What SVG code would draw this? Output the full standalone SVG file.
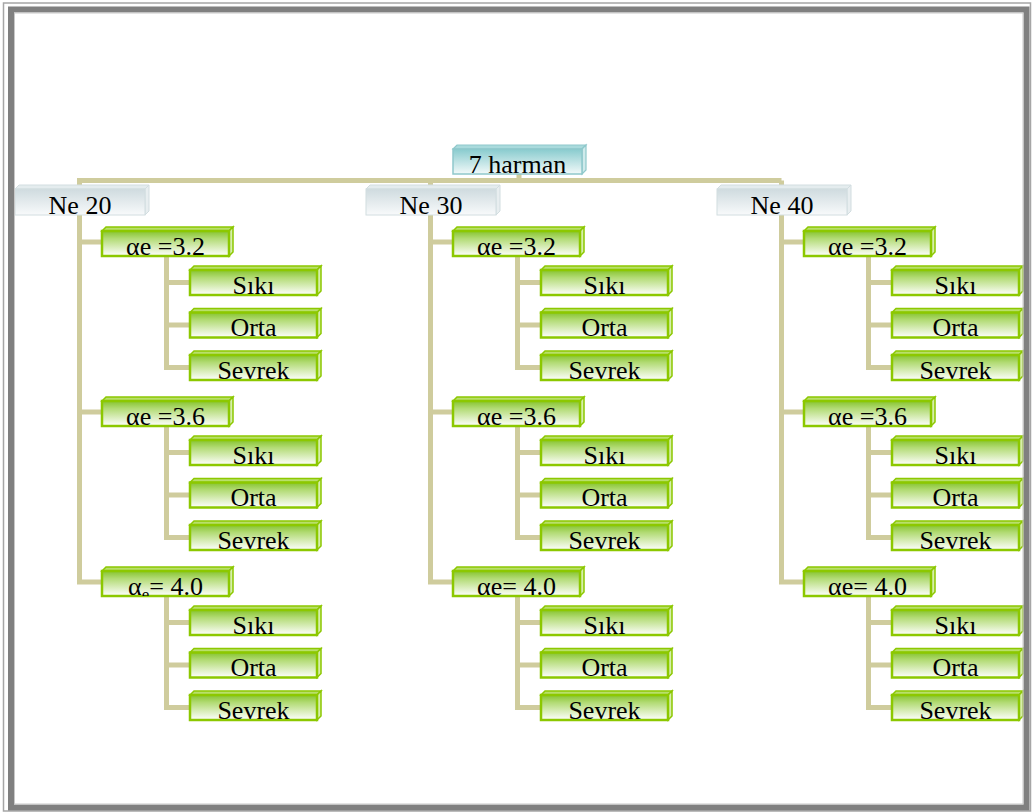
<svg xmlns="http://www.w3.org/2000/svg" width="1032" height="812" viewBox="0 0 1032 812">
<style>
.t{font-family:'Liberation Serif','DejaVu Serif',serif;font-size:26px;fill:#000;text-anchor:middle}
.c{fill:none;stroke:#cfcc9d;stroke-width:5;stroke-linejoin:miter}
</style>
<defs>
<linearGradient id="gG" x1="0" y1="0" x2="0" y2="1"><stop offset="0" stop-color="#86c42e"/><stop offset="0.3" stop-color="#b2db74"/><stop offset="1" stop-color="#ffffff"/></linearGradient>
<linearGradient id="bG" x1="0" y1="0" x2="0" y2="1"><stop offset="0" stop-color="#cfdbdf"/><stop offset="1" stop-color="#f8fafb"/></linearGradient>
<linearGradient id="tG" x1="0" y1="0" x2="0" y2="1"><stop offset="0" stop-color="#88cbce"/><stop offset="1" stop-color="#f2f9f9"/></linearGradient>
<clipPath id="cg"><rect x="0" y="4" width="127" height="25"/></clipPath>
<clipPath id="cb"><rect x="0" y="4" width="130" height="26"/></clipPath>
<g id="gbox">
<path d="M0 4 L4 0 H131 L127 4 Z" fill="#b8df6a" stroke="#8cc800" stroke-width="1.5"/>
<path d="M127 4 L131 0 V25 L127 29 Z" fill="#d6eeaa" stroke="#8cc800" stroke-width="1.5"/>
<rect x="0" y="4" width="127" height="25" fill="url(#gG)" stroke="#8cc800" stroke-width="2.5"/>
</g>
<g id="bbox">
<path d="M0 4 L4 0 H134 L130 4 Z" fill="#e4ecee" stroke="#d2dde0" stroke-width="1"/>
<path d="M130 4 L134 0 V26 L130 30 Z" fill="#e8eef0" stroke="#d2dde0" stroke-width="1"/>
<rect x="0" y="4" width="130" height="26" fill="url(#bG)" stroke="#d2dde0" stroke-width="1"/>
</g>
<g id="tbox">
<path d="M0 4 L4 0 H133 L129 4 Z" fill="#a9dadc" stroke="#8fc8cb" stroke-width="1.2"/>
<path d="M129 4 L133 0 V25 L129 29 Z" fill="#cfeaeb" stroke="#8fc8cb" stroke-width="1.2"/>
<rect x="0" y="4" width="129" height="25" fill="url(#tG)" stroke="#8fc8cb" stroke-width="1.5"/>
</g>
</defs>
<rect x="0" y="0" width="1032" height="812" fill="#ffffff"/>
<g id="connectors">
<path class="c" d="M519 174 V180.5 M79.5 180.5 H781.5 M79.5 178 V187 M430.5 180.5 V187 M781.5 180.5 V187"/>
<path class="c" d="M79.5 215 V582 H104 M79.5 242 H104 M79.5 412 H104"/>
<path class="c" d="M430.5 215 V582 H455 M430.5 242 H455 M430.5 412 H455"/>
<path class="c" d="M781.5 215 V582 H806 M781.5 242 H806 M781.5 412 H806"/>
<path class="c" d="M166.5 256 V367.5 H192 M166.5 282.5 H192 M166.5 325 H192 M166.5 426 V537.5 H192 M166.5 452.5 H192 M166.5 495 H192 M166.5 596 V707.5 H192 M166.5 622.5 H192 M166.5 665 H192"/>
<path class="c" d="M517.5 256 V367.5 H543 M517.5 282.5 H543 M517.5 325 H543 M517.5 426 V537.5 H543 M517.5 452.5 H543 M517.5 495 H543 M517.5 596 V707.5 H543 M517.5 622.5 H543 M517.5 665 H543"/>
<path class="c" d="M868.5 256 V367.5 H894 M868.5 282.5 H894 M868.5 325 H894 M868.5 426 V537.5 H894 M868.5 452.5 H894 M868.5 495 H894 M868.5 596 V707.5 H894 M868.5 622.5 H894 M868.5 665 H894"/>
</g>
<g id="root" transform="translate(453,145)"><use href="#tbox"/><text class="t" x="64.5" y="27.5" clip-path="url(#cg)">7 harman</text></g>
<g id="ne20" transform="translate(15,185)"><use href="#bbox"/><text class="t" x="65" y="28.5" clip-path="url(#cb)">Ne 20</text></g>
<g id="ne30" transform="translate(366,185)"><use href="#bbox"/><text class="t" x="65" y="28.5" clip-path="url(#cb)">Ne 30</text></g>
<g id="ne40" transform="translate(717,185)"><use href="#bbox"/><text class="t" x="65" y="28.5" clip-path="url(#cb)">Ne 40</text></g>
<g id="a20-32" transform="translate(102,227)"><use href="#gbox"/><text class="t" x="63.5" y="27.5" clip-path="url(#cg)">αe =3.2</text></g>
<g id="a20-36" transform="translate(102,397)"><use href="#gbox"/><text class="t" x="63.5" y="27.5" clip-path="url(#cg)">αe =3.6</text></g>
<g id="a20-40" transform="translate(102,567)"><use href="#gbox"/><text class="t" x="63.5" y="27.5" clip-path="url(#cg)">α<tspan font-size="17" dy="5">e</tspan><tspan dy="-5">= 4.0</tspan></text></g>
<g id="a30-32" transform="translate(453,227)"><use href="#gbox"/><text class="t" x="63.5" y="27.5" clip-path="url(#cg)">αe =3.2</text></g>
<g id="a30-36" transform="translate(453,397)"><use href="#gbox"/><text class="t" x="63.5" y="27.5" clip-path="url(#cg)">αe =3.6</text></g>
<g id="a30-40" transform="translate(453,567)"><use href="#gbox"/><text class="t" x="63.5" y="27.5" clip-path="url(#cg)">αe= 4.0</text></g>
<g id="a40-32" transform="translate(804,227)"><use href="#gbox"/><text class="t" x="63.5" y="27.5" clip-path="url(#cg)">αe =3.2</text></g>
<g id="a40-36" transform="translate(804,397)"><use href="#gbox"/><text class="t" x="63.5" y="27.5" clip-path="url(#cg)">αe =3.6</text></g>
<g id="a40-40" transform="translate(804,567)"><use href="#gbox"/><text class="t" x="63.5" y="27.5" clip-path="url(#cg)">αe= 4.0</text></g>
<g id="l20-32-s" transform="translate(190,266)"><use href="#gbox"/><text class="t" x="63.5" y="27.5" clip-path="url(#cg)">Sıkı</text></g>
<g id="l20-32-o" transform="translate(190,308.5)"><use href="#gbox"/><text class="t" x="63.5" y="27.5" clip-path="url(#cg)">Orta</text></g>
<g id="l20-32-v" transform="translate(190,351)"><use href="#gbox"/><text class="t" x="63.5" y="27.5" clip-path="url(#cg)">Sevrek</text></g>
<g id="l20-36-s" transform="translate(190,436)"><use href="#gbox"/><text class="t" x="63.5" y="27.5" clip-path="url(#cg)">Sıkı</text></g>
<g id="l20-36-o" transform="translate(190,478.5)"><use href="#gbox"/><text class="t" x="63.5" y="27.5" clip-path="url(#cg)">Orta</text></g>
<g id="l20-36-v" transform="translate(190,521)"><use href="#gbox"/><text class="t" x="63.5" y="27.5" clip-path="url(#cg)">Sevrek</text></g>
<g id="l20-40-s" transform="translate(190,606)"><use href="#gbox"/><text class="t" x="63.5" y="27.5" clip-path="url(#cg)">Sıkı</text></g>
<g id="l20-40-o" transform="translate(190,648.5)"><use href="#gbox"/><text class="t" x="63.5" y="27.5" clip-path="url(#cg)">Orta</text></g>
<g id="l20-40-v" transform="translate(190,691)"><use href="#gbox"/><text class="t" x="63.5" y="27.5" clip-path="url(#cg)">Sevrek</text></g>
<g id="l30-32-s" transform="translate(541,266)"><use href="#gbox"/><text class="t" x="63.5" y="27.5" clip-path="url(#cg)">Sıkı</text></g>
<g id="l30-32-o" transform="translate(541,308.5)"><use href="#gbox"/><text class="t" x="63.5" y="27.5" clip-path="url(#cg)">Orta</text></g>
<g id="l30-32-v" transform="translate(541,351)"><use href="#gbox"/><text class="t" x="63.5" y="27.5" clip-path="url(#cg)">Sevrek</text></g>
<g id="l30-36-s" transform="translate(541,436)"><use href="#gbox"/><text class="t" x="63.5" y="27.5" clip-path="url(#cg)">Sıkı</text></g>
<g id="l30-36-o" transform="translate(541,478.5)"><use href="#gbox"/><text class="t" x="63.5" y="27.5" clip-path="url(#cg)">Orta</text></g>
<g id="l30-36-v" transform="translate(541,521)"><use href="#gbox"/><text class="t" x="63.5" y="27.5" clip-path="url(#cg)">Sevrek</text></g>
<g id="l30-40-s" transform="translate(541,606)"><use href="#gbox"/><text class="t" x="63.5" y="27.5" clip-path="url(#cg)">Sıkı</text></g>
<g id="l30-40-o" transform="translate(541,648.5)"><use href="#gbox"/><text class="t" x="63.5" y="27.5" clip-path="url(#cg)">Orta</text></g>
<g id="l30-40-v" transform="translate(541,691)"><use href="#gbox"/><text class="t" x="63.5" y="27.5" clip-path="url(#cg)">Sevrek</text></g>
<g id="l40-32-s" transform="translate(892,266)"><use href="#gbox"/><text class="t" x="63.5" y="27.5" clip-path="url(#cg)">Sıkı</text></g>
<g id="l40-32-o" transform="translate(892,308.5)"><use href="#gbox"/><text class="t" x="63.5" y="27.5" clip-path="url(#cg)">Orta</text></g>
<g id="l40-32-v" transform="translate(892,351)"><use href="#gbox"/><text class="t" x="63.5" y="27.5" clip-path="url(#cg)">Sevrek</text></g>
<g id="l40-36-s" transform="translate(892,436)"><use href="#gbox"/><text class="t" x="63.5" y="27.5" clip-path="url(#cg)">Sıkı</text></g>
<g id="l40-36-o" transform="translate(892,478.5)"><use href="#gbox"/><text class="t" x="63.5" y="27.5" clip-path="url(#cg)">Orta</text></g>
<g id="l40-36-v" transform="translate(892,521)"><use href="#gbox"/><text class="t" x="63.5" y="27.5" clip-path="url(#cg)">Sevrek</text></g>
<g id="l40-40-s" transform="translate(892,606)"><use href="#gbox"/><text class="t" x="63.5" y="27.5" clip-path="url(#cg)">Sıkı</text></g>
<g id="l40-40-o" transform="translate(892,648.5)"><use href="#gbox"/><text class="t" x="63.5" y="27.5" clip-path="url(#cg)">Orta</text></g>
<g id="l40-40-v" transform="translate(892,691)"><use href="#gbox"/><text class="t" x="63.5" y="27.5" clip-path="url(#cg)">Sevrek</text></g>
<g id="frame" fill="none">
<rect x="3.5" y="3" width="1027" height="808" stroke="#a6a6a6" stroke-width="1.5"/>
<rect x="11" y="9.5" width="1015.5" height="798" stroke="#808080" stroke-width="6"/>
<rect x="14.5" y="13" width="1008.5" height="791" stroke="#c8c8c8" stroke-width="1"/>
</g>
</svg>
